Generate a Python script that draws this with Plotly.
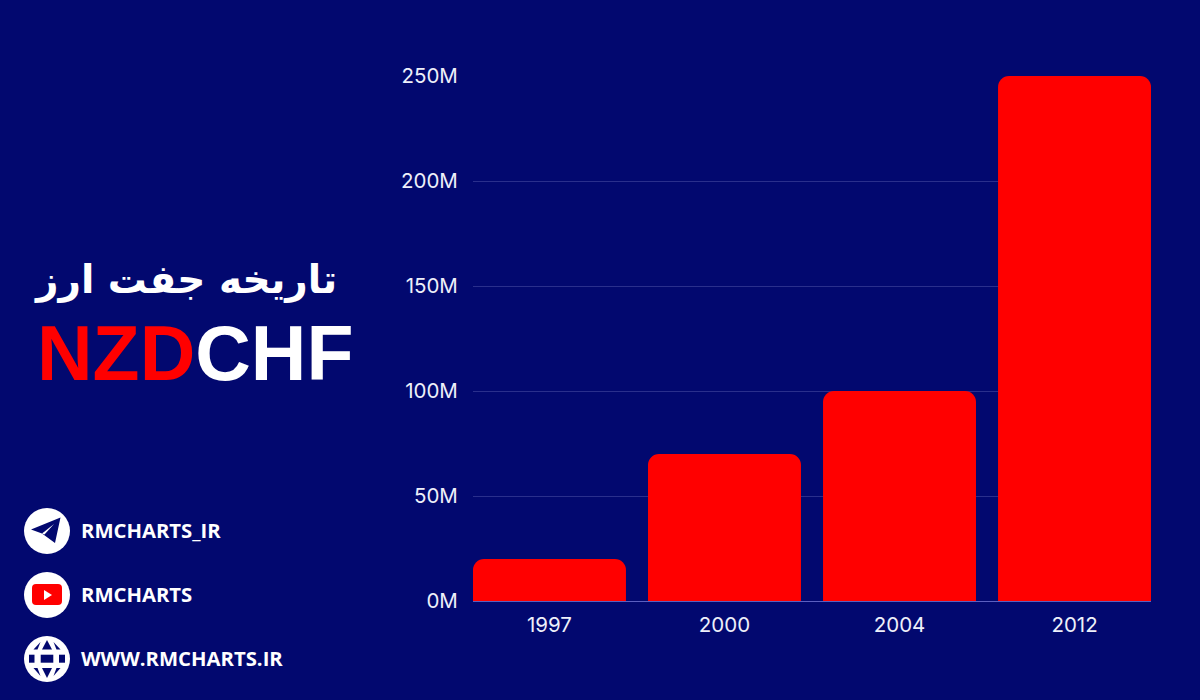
import plotly.graph_objects as go

# Values
years = ["1997", "2000", "2004", "2012"]
volumes = [20e6, 70e6, 100e6, 250e6]
y_ticks = [0, 50e6, 100e6, 150e6, 200e6, 250e6]
y_labels = ["0M", "50M", "100M", "150M", "200M", "250M"]
socials = ["RMCHARTS_IR", "RMCHARTS", "WWW.RMCHARTS.IR"]

BG = "#02086f"
RED = "#ff0000"
W, H = 1200, 700
L, R, T, B = 473, 49, 76, 99


# page pixels -> paper coords, for the side panel only
def px(x):
    return (x - L) / (W - L - R)


def py(y):
    return 1 - (y - T) / (H - T - B)


def path(points):
    return "M" + " L".join(f"{px(x)},{py(y)}" for x, y in points) + " Z"


def circle(cx, cy, r, color="white"):
    return dict(
        type="circle", xref="paper", yref="paper",
        x0=px(cx - r), x1=px(cx + r), y0=py(cy + r), y1=py(cy - r),
        fillcolor=color, line=dict(color=color, width=0),
    )


def poly(points, color):
    return dict(
        type="path", xref="paper", yref="paper", path=path(points),
        fillcolor=color, line=dict(color=color, width=0),
    )


def rect(x0, y0, x1, y1, color):
    return poly([(x0, y0), (x1, y0), (x1, y1), (x0, y1)], color)


def round_rect(x0, y0, x1, y1, r, color):
    d = (
        f"M{px(x0 + r)},{py(y0)} L{px(x1 - r)},{py(y0)} Q{px(x1)},{py(y0)} {px(x1)},{py(y0 + r)} "
        f"L{px(x1)},{py(y1 - r)} Q{px(x1)},{py(y1)} {px(x1 - r)},{py(y1)} "
        f"L{px(x0 + r)},{py(y1)} Q{px(x0)},{py(y1)} {px(x0)},{py(y1 - r)} "
        f"L{px(x0)},{py(y0 + r)} Q{px(x0)},{py(y0)} {px(x0 + r)},{py(y0)} Z"
    )
    return dict(
        type="path", xref="paper", yref="paper", path=d,
        fillcolor=color, line=dict(color=color, width=0),
    )


fig = go.Figure(
    go.Bar(x=years, y=volumes, marker=dict(color=RED, line=dict(width=0)))
)

shapes = [
    # telegram
    circle(47, 531, 23),
    poly([(31, 529.5), (60.5, 517.5), (55, 543), (42, 533.5)], BG),
    poly([(42, 533.5), (54, 524), (44.5, 534.5)], "white"),
    # youtube
    circle(47, 595, 23),
    round_rect(32, 584, 62, 605, 4, RED),
    poly([(44, 590), (52, 595), (44, 600)], "white"),
    # globe: white disc with navy cells
    circle(47, 659, 23),
    rect(29, 654.7, 34.5, 662.7, BG),
    rect(40.7, 654.7, 53.3, 662.7, BG),
    rect(59, 654.7, 65, 662.7, BG),
    poly([(47, 640), (42, 649.5), (52, 649.5)], BG),
    poly([(47, 678), (42, 668), (52, 668)], BG),
    poly([(33.5, 649.5), (37.5, 649.5), (40.5, 642)], BG),
    poly([(60.5, 649.5), (56.5, 649.5), (53.5, 642)], BG),
    poly([(33.5, 668), (37.5, 668), (40.5, 676)], BG),
    poly([(60.5, 668), (56.5, 668), (53.5, 676)], BG),
]

annotations = [
    dict(
        x=px(185), y=py(280), text="<b>تاریخه جفت ارز</b>", xanchor="center",
        font=dict(family="DejaVu Sans", size=39, color="white"),
    ),
    dict(
        x=px(195), y=py(353), xanchor="center",
        text=f'<b><span style="color:{RED}">NZD</span>CHF</b>',
        font=dict(family="Liberation Sans", size=77, color="white"),
    ),
]
for name, y in zip(socials, [530, 594, 658]):
    annotations.append(
        dict(
            x=px(78.5), y=py(y), text=f"<b>{name}</b>", xanchor="left",
            font=dict(family="Open Sans", size=20.3, color="white"),
        )
    )
for a in annotations:
    a.update(xref="paper", yref="paper", showarrow=False, yanchor="middle")

fig.update_layout(
    width=W,
    height=H,
    autosize=False,
    paper_bgcolor=BG,
    plot_bgcolor=BG,
    margin=dict(l=L, r=R, t=T, b=B),
    bargap=0.126,
    barcornerradius=11,
    showlegend=False,
    shapes=shapes,
    annotations=annotations,
    font=dict(family="Inter", color="#eef0fa"),
)
fig.update_xaxes(
    type="category",
    range=[-0.437, 3.437],
    tickfont=dict(size=20.5),
    ticks="outside",
    ticklen=5,
    tickcolor="rgba(0,0,0,0)",
    showgrid=False,
    showline=False,
)
fig.update_yaxes(
    range=[0, 250e6],
    tickvals=y_ticks,
    ticktext=y_labels,
    tickfont=dict(size=20.5),
    ticks="outside",
    ticklen=10,
    tickcolor="rgba(0,0,0,0)",
    gridcolor="#2a2f8c",
    gridwidth=1,
    zeroline=True,
    zerolinecolor="#5b5fc0",
    zerolinewidth=1,
    showline=False,
)

# drop the page's default body margin so the figure fills the window
fig.write_html(
    "out.html",
    config={"displayModeBar": False},
    post_script="document.body.style.margin='0';",
)
